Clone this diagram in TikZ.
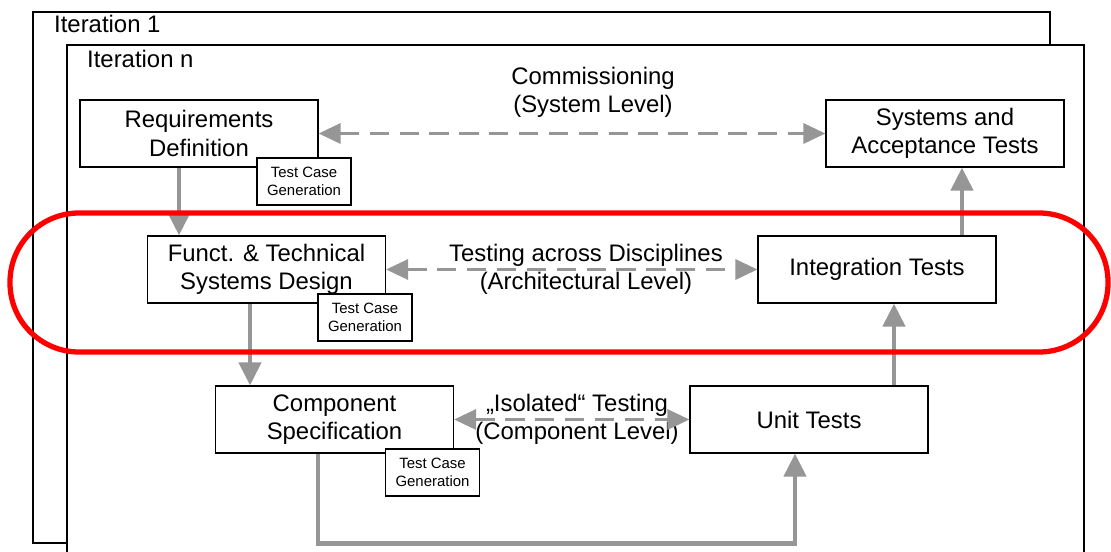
\documentclass[tikz,border=0pt]{standalone}
\usepackage{fontspec}
\setmainfont{Liberation Sans}
\usetikzlibrary{arrows.meta}
\usetikzlibrary{calc}
\usetikzlibrary{positioning}

\definecolor{flowgray}{RGB}{150,150,150}

\begin{document}
\begin{tikzpicture}[x=0.02cm, y=-0.02cm,
    box/.style={rectangle, draw=black, fill=white, line width=0.7pt, minimum width=4.76cm, minimum height=1.34cm, align=center, font=\fontsize{13.6}{16}\selectfont},
    tcbox/.style={rectangle, draw=black, fill=white, line width=0.7pt, minimum width=1.88cm, minimum height=0.94cm, align=center, font=\fontsize{8.5}{10}\selectfont},
    label/.style={align=center, font=\fontsize{13.6}{16}\selectfont},
    flow/.style={draw=flowgray, line width=2.5pt, -{Triangle[length=0.46cm, width=0.44cm]}},
    both/.style={draw=flowgray, line width=1.8pt, dash pattern=on 11pt off 6pt, {Triangle[length=0.44cm, width=0.4cm]}-{Triangle[length=0.44cm, width=0.4cm]}}]
    \useasboundingbox (0,0) rectangle (1111,551);
    \clip (0,0) rectangle (1111,551);
    % iteration frames
    \draw[line width=0.7pt, fill=white] (33,12) rectangle (1050,543);
    \node[label, anchor=west] (it1) at (48,24) {Iteration 1};
    \draw[line width=0.7pt, fill=white] (67,45) rectangle (1084,570);
    \node[label, anchor=west] (itn) at (81,59) {Iteration n};
    % levels
    \node[box] (req) at (199,133.5) {Requirements\\Definition};
    \node[box] (sys) at (945,133.5) {Systems and\\Acceptance Tests};
    \node[box] (fun) at (266.5,269.5) {Funct. \& Technical\\Systems Design};
    \node[box] (integ) at (877,269.5) {Integration Tests};
    \node[box] (comp) at (334.5,419.5) {Component\\Specification};
    \node[box] (unit) at (809,419.5) {Unit Tests};
    % test case generation
    \node[tcbox] (tc1) at (304,181.5) {Test Case\\Generation};
    \node[tcbox] (tc2) at (365,317.5) {Test Case\\Generation};
    \node[tcbox] (tc3) at (432.5,472.5) {Test Case\\Generation};
    % level labels
    \node[label] (commis) at (593,92) {Commissioning\\(System Level)};
    \node[label] (across) at (586,269.5) {Testing across Disciplines\\(Architectural Level)};
    \node[label] (isolated) at (577,419.5) {„Isolated“ Testing\\(Component Level)};
    % connectors
    \draw[both] (req.east) -- (sys.west);
    \draw[both] (fun.east) -- (integ.west);
    \draw[both] (comp.east) -- (unit.west);
    \draw[flow] ([xshift=-0.4cm]req.south) -- ([xshift=-0.4cm]req.south |- fun.north);
    \draw[flow] ([xshift=-0.33cm]fun.south) -- ([xshift=-0.33cm]fun.south |- comp.north);
    \draw[flow] ([xshift=-0.33cm]comp.south) -- ++(0,90) -| ([xshift=-0.28cm]unit.south);
    \draw[flow] ([xshift=1.7cm]unit.north) -- ([xshift=1.7cm]unit.north |- integ.south);
    \draw[flow] ([xshift=1.7cm]integ.north) -- ([xshift=1.7cm]integ.north |- sys.south);
    % highlight
    \draw[red, line width=3pt, rounded corners=1.38cm] (10,213) rectangle (1108,352);
\end{tikzpicture}
\end{document}
